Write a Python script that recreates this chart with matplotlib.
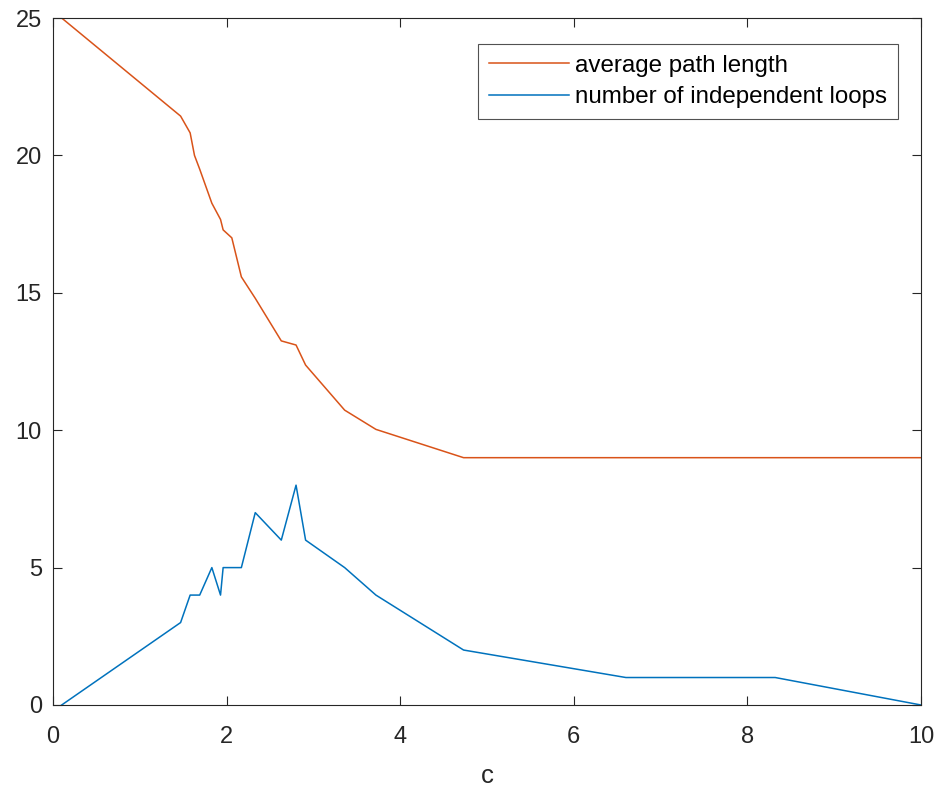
import matplotlib
matplotlib.use('Agg')
import matplotlib.pyplot as plt

# connection parameter c and the two measured quantities
c = [0.1, 1.47, 1.58, 1.63, 1.69, 1.83, 1.93, 1.96, 2.06, 2.17,
     2.33, 2.63, 2.80, 2.91, 3.36, 3.72, 4.73, 6.6, 8.32, 10.0]
avg_path_length = [25.0, 21.43, 20.82, 20.0, 19.5, 18.26, 17.67, 17.29, 17.0, 15.58,
                   14.8, 13.25, 13.1, 12.37, 10.73, 10.03, 9.0, 9.0, 9.0, 9.0]
independent_loops = [0, 3, 4, 4, 4, 5, 4, 5, 5, 5,
                     7, 6, 8, 6, 5, 4, 2, 1, 1, 0]

plt.rcParams['font.family'] = ['Liberation Sans', 'DejaVu Sans']
axis_grey = '#262626'

fig = plt.figure(figsize=(9.43, 7.90), dpi=100)
ax = fig.add_axes([0.0562, 0.1076, 0.9205, 0.8696])

ax.plot(c, avg_path_length, color='#D95319', lw=1.1, label='average path length')
ax.plot(c, independent_loops, color='#0072BD', lw=1.1, label='number of independent loops')

ax.set_xlim(0, 10)
ax.set_ylim(0, 25)
ax.set_xticks(range(0, 11, 2))
ax.set_yticks(range(0, 26, 5))
ax.set_xlabel('c', fontsize=18.5, color=axis_grey, labelpad=12)

ax.tick_params(direction='in', length=6.5, width=0.8, top=True, right=True,
               labelsize=17, colors=axis_grey)
ax.tick_params(axis='x', pad=15)
ax.tick_params(axis='y', pad=8)
for spine in ax.spines.values():
    spine.set_color(axis_grey)
    spine.set_linewidth(0.8)

leg = ax.legend(loc='upper right', bbox_to_anchor=(0.9735, 0.9625), fontsize=17.4,
                frameon=True, fancybox=False, handlelength=3.3, handletextpad=0.25,
                borderpad=0.45, labelspacing=0.4, borderaxespad=0)
leg.get_frame().set_edgecolor(axis_grey)
leg.get_frame().set_linewidth(0.8)

fig.savefig('out.png', dpi=100)
